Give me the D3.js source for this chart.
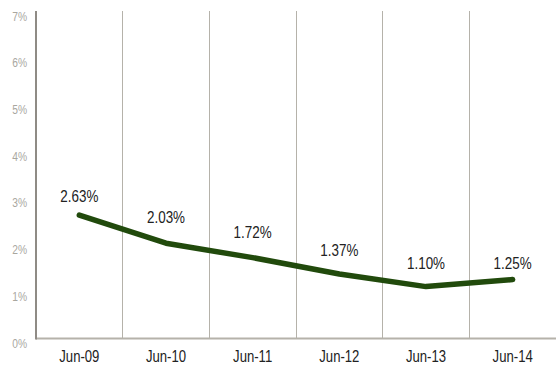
<!DOCTYPE html>
<html>
<head>
<meta charset="utf-8">
<script src="https://cdn.jsdelivr.net/npm/d3@7"></script>
<style>
  html, body { margin: 0; padding: 0; background: #fff; }
  svg { display: block; font-family: "Liberation Sans", Arial, sans-serif; }
</style>
</head>
<body>
<svg id="chart" width="556" height="367"></svg>
<script>
const categories = ["Jun-09", "Jun-10", "Jun-11", "Jun-12", "Jun-13", "Jun-14"];
const rates = [2.63, 2.03, 1.72, 1.37, 1.10, 1.25];
const yTicks = [0, 1, 2, 3, 4, 5, 6, 7];

// vertical nudge of each value label above its point
const labelDy = [-13, -20, -20, -18, -18, -11];

const svg = d3.select("#chart");
const plotLeft = 36, plotRight = 556, plotTop = 11, plotBottom = 338;

const x = d3.scaleBand().domain(categories).range([plotLeft, plotRight]);
const y = d3.scaleLinear().domain([0, 7]).range([plotBottom, plotTop]);
const cx = c => x(c) + x.bandwidth() / 2;

// condensed lettering: squeeze text horizontally around its anchor
const squeeze = (sel, s) => sel.attr("transform", function () {
  const tx = +this.getAttribute("data-x"), ty = +this.getAttribute("data-y");
  return `translate(${tx},${ty}) scale(${s},1)`;
});

// vertical separators between categories
svg.append("g")
  .selectAll("line")
  .data(categories.slice(1))
  .join("line")
  .attr("x1", d => x(d)).attr("x2", d => x(d))
  .attr("y1", plotTop).attr("y2", plotBottom)
  .attr("stroke", "#b5b2aa").attr("stroke-width", 1)
  .attr("shape-rendering", "crispEdges");

// x axis baseline
svg.append("line")
  .attr("x1", plotLeft).attr("x2", plotRight)
  .attr("y1", plotBottom + 0.5).attr("y2", plotBottom + 0.5)
  .attr("stroke", "#b5b2aa").attr("stroke-width", 2);

// y axis
svg.append("line")
  .attr("x1", plotLeft).attr("x2", plotLeft)
  .attr("y1", plotTop).attr("y2", plotBottom + 1.5)
  .attr("stroke", "#8f8b85").attr("stroke-width", 2);

// y tick labels
svg.append("g")
  .selectAll("text")
  .data(yTicks)
  .join("text")
  .attr("data-x", 27)
  .attr("data-y", d => y(d) + 9.5)
  .attr("text-anchor", "end")
  .attr("font-size", 13.5)
  .attr("fill", "#a9a79f")
  .text(d => d + "%")
  .call(squeeze, 0.76);

// x tick labels
svg.append("g")
  .selectAll("text")
  .data(categories)
  .join("text")
  .attr("data-x", d => cx(d))
  .attr("data-y", 362)
  .attr("text-anchor", "middle")
  .attr("font-size", 16)
  .attr("fill", "#222")
  .text(d => d)
  .call(squeeze, 0.82);

const pts = categories.map((c, i) => ({ c, v: rates[i], dy: labelDy[i] }));

// rate line
svg.append("path")
  .datum(pts)
  .attr("d", d3.line().x(d => cx(d.c)).y(d => y(d.v)))
  .attr("fill", "none")
  .attr("stroke", "#214a0c")
  .attr("stroke-width", 5.5)
  .attr("stroke-linecap", "round")
  .attr("stroke-linejoin", "round");

// value labels
svg.append("g")
  .selectAll("text")
  .data(pts)
  .join("text")
  .attr("data-x", d => cx(d.c))
  .attr("data-y", d => y(d.v) + d.dy)
  .attr("text-anchor", "middle")
  .attr("font-size", 16)
  .attr("fill", "#222")
  .text(d => d.v.toFixed(2) + "%")
  .call(squeeze, 0.84);
</script>
</body>
</html>
